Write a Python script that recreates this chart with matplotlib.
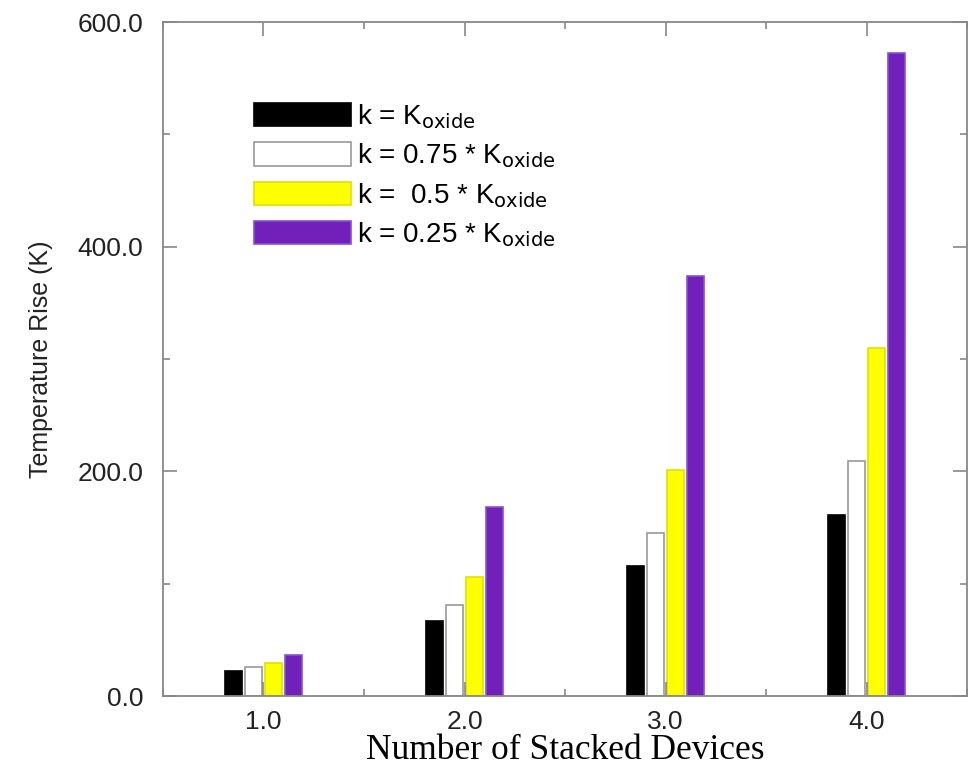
import numpy as np
import matplotlib.pyplot as plt
from matplotlib.ticker import MultipleLocator, FormatStrFormatter

# stacked device count on x, temperature rise (K) per oxide conductivity
devices = [1.0, 2.0, 3.0, 4.0]
rise_k100 = [22, 67, 116, 161]
rise_k75 = [26, 81, 145, 209]
rise_k50 = [29.6, 105.5, 201, 310]
rise_k25 = [36.4, 168, 374, 572]

labels = [r'k = K$_{\mathrm{oxide}}$',
          r'k = 0.75 * K$_{\mathrm{oxide}}$',
          r'k =  0.5 * K$_{\mathrm{oxide}}$',
          r'k = 0.25 * K$_{\mathrm{oxide}}$']
face_cols = ['black', 'white', '#ffff00', '#7121b9']
edge_cols = ['black', '#999999', '#e0e000', '#8a4fd0']

fig = plt.figure(figsize=(9.7, 7.7), dpi=100)
ax = fig.add_axes([0.168, 0.0961, 0.829, 0.8753])

x = np.array(devices)
series = [rise_k100, rise_k75, rise_k50, rise_k25]
offsets = [-0.15, -0.05, 0.05, 0.15]
bars = []
for s, off, fc, ec in zip(series, offsets, face_cols, edge_cols):
    b = ax.bar(x + off, s, width=0.085, color=fc, edgecolor=ec, linewidth=1.2)
    bars.append(b)

ax.set_xlim(0.5, 4.5)
ax.set_ylim(0, 600)
ax.xaxis.set_major_locator(MultipleLocator(1.0))
ax.xaxis.set_minor_locator(MultipleLocator(0.5))
ax.yaxis.set_major_locator(MultipleLocator(200))
ax.yaxis.set_minor_locator(MultipleLocator(100))
ax.xaxis.set_major_formatter(FormatStrFormatter('%.1f'))
ax.yaxis.set_major_formatter(FormatStrFormatter('%.1f'))

for sp in ax.spines.values():
    sp.set_color('#888888')
    sp.set_linewidth(1.3)

ax.tick_params(which='both', direction='in', top=True, right=True,
               color='#888888', width=1.2)
ax.tick_params(which='major', length=10)
ax.tick_params(which='minor', length=5)
ax.tick_params(axis='y', which='major', pad=14, labelsize=19)
ax.tick_params(axis='x', which='major', pad=10, labelsize=19)
for t in ax.get_xticklabels() + ax.get_yticklabels():
    t.set_fontfamily('Liberation Sans')
    t.set_color('#222222')

ax.set_xlabel('Number of Stacked Devices', fontsize=25.5,
              fontfamily='Liberation Serif', labelpad=0)
ax.set_ylabel('Temperature Rise (K)', fontsize=18,
              fontfamily='Liberation Sans', labelpad=18, color='#222222')

leg = ax.legend(bars, labels, loc='upper left', bbox_to_anchor=(0.113, 0.881),
                frameon=False, borderpad=0, borderaxespad=0,
                handlelength=3.5, handleheight=0.9, handletextpad=0.2,
                labelspacing=0.38, prop={'family': 'Liberation Sans', 'size': 20})

fig.savefig('out.png', dpi=100)
